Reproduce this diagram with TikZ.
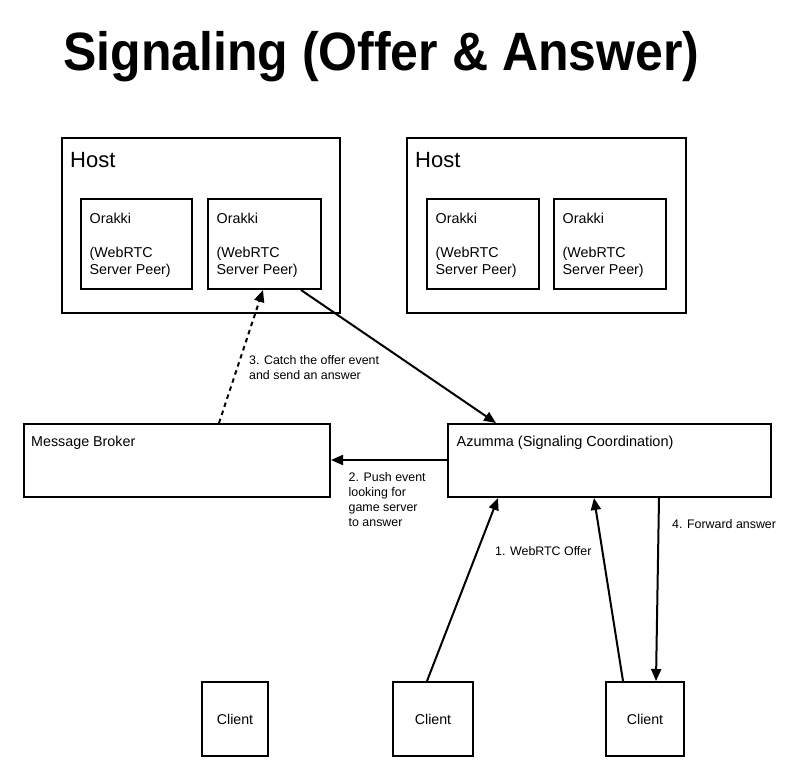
\documentclass[tikz,border=0pt]{standalone}
\usepackage{fontspec}
\setmainfont{Liberation Sans}
\usetikzlibrary{arrows.meta}
\begin{document}
\begin{tikzpicture}[x=1pt,y=-1pt,
  box/.style={draw=black,line width=2pt,fill=white,inner sep=0pt,anchor=north west},
  txt/.style={inner sep=0pt,anchor=base west,align=left},
  lbl/.style={inner sep=0pt,anchor=base west,font=\fontsize{12.4}{15}\selectfont,align=left},
  conn/.style={line width=2pt,-{Triangle[length=12pt,width=10pt]}},
  dconn/.style={conn,dash pattern=on 4.5pt off 4pt}]
\useasboundingbox[fill=white] (0,0) rectangle (812,780);
% title
\node[txt,font=\fontsize{50}{56}\bfseries\selectfont,yscale=1.08] (title) at (63,70) {Signaling (Offer \& Answer)};
% hosts
\node[box,minimum width=278,minimum height=175] (h1) at (61,137) {};
\node[txt,font=\fontsize{22}{26}\selectfont] (h1t) at (70,167) {Host};
\node[box,minimum width=279,minimum height=175] (h2) at (406,137) {};
\node[txt,font=\fontsize{22}{26}\selectfont] (h2t) at (415,167) {Host};
% orakki boxes
\foreach \n/\x/\w in {o1/80/111,o2/207/113,o3/426/112,o4/553/112}{
  \node[box,minimum width=\w,minimum height=90] (\n) at (\x,198) {};
  \node[txt,font=\fontsize{14.3}{17}\selectfont] (\n a) at (\x+9.5,223) {Orakki};
  \node[txt,font=\fontsize{14.3}{17}\selectfont] (\n b) at (\x+9.5,274) {(WebRTC\\Server Peer)};
}
% broker and azumma
\node[box,minimum width=306,minimum height=73] (mb) at (23,423) {};
\node[txt,font=\fontsize{14.3}{17}\selectfont] (mbt) at (31,446) {Message Broker};
\node[box,minimum width=323,minimum height=73] (az) at (447,423) {};
\node[txt,font=\fontsize{14.5}{17}\selectfont] (azt) at (456.5,446) {Azumma (Signaling Coordination)};
% clients
\node[box,minimum width=66,minimum height=74] (c1) at (201,681) {};
\node[box,minimum width=80,minimum height=74] (c2) at (392,681) {};
\node[box,minimum width=78,minimum height=74] (c3) at (605,681) {};
\foreach \c in {c1,c2,c3}{\node[inner sep=0pt,font=\fontsize{14.2}{17}\selectfont] (\c t) at (\c.center) {Client};}
% connectors
\draw[conn] ([xshift=36.5pt]o2.south) -- ([xshift=-113.5pt]az.north);
\draw[dconn] ([xshift=42pt]mb.north) -- ([xshift=-1.5pt]o2.south);
\draw[conn] ([yshift=0.5pt]az.west) -- ([yshift=0.5pt]mb.east);
\draw[conn] ([xshift=-6pt]c2.north) -- ([xshift=-111.5pt]az.south);
\draw[conn] ([xshift=-22pt]c3.north) -- ([xshift=-15.5pt]az.south);
\draw[conn] ([xshift=49.5pt]az.south) -- ([xshift=11pt]c3.north);
% labels
\node[lbl] (l3) at (249,379) {3. Catch the offer event\\and send an answer};
\node[lbl] (l2) at (348.5,526) {2. Push event\\looking for\\game server\\to answer};
\node[lbl] (l1) at (495,555) {1. WebRTC Offer};
\node[lbl] (l4) at (672,528) {4. Forward answer};
\end{tikzpicture}
\end{document}
